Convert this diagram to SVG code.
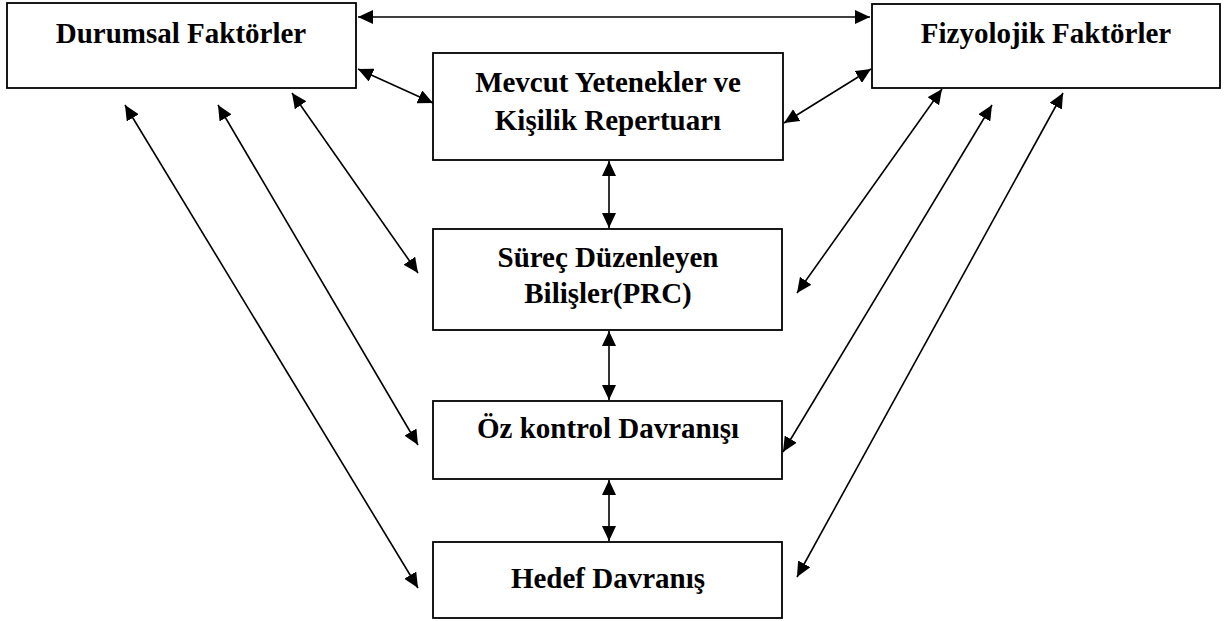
<svg xmlns="http://www.w3.org/2000/svg" width="1224" height="621" viewBox="0 0 1224 621">
<style>
.box{fill:#fff;stroke:#000;stroke-width:1.8}
.lbl{font-family:"Liberation Serif","Times New Roman",serif;font-weight:bold;font-size:29px;fill:#000;text-anchor:middle}
.con{stroke:#000;stroke-width:1.6;fill:none;marker-start:url(#ah);marker-end:url(#ah)}
</style>
<defs>
<marker id="ah" markerUnits="userSpaceOnUse" markerWidth="16" markerHeight="14" refX="15" refY="7" orient="auto-start-reverse">
<path d="M0,0 L15,7 L0,14 z" fill="#000"/>
</marker>
</defs>
<rect width="1224" height="621" fill="#fff"/>
<g id="durumsal"><rect class="box" x="7" y="3" width="349" height="85"/><text class="lbl" x="181" y="43">Durumsal Faktörler</text></g>
<g id="fizyolojik"><rect class="box" x="872" y="4" width="348" height="84"/><text class="lbl" x="1046" y="43">Fizyolojik Faktörler</text></g>
<g id="mevcut"><rect class="box" x="433" y="53" width="350" height="107"/><text class="lbl" x="608" y="92">Mevcut Yetenekler ve</text><text class="lbl" x="608" y="130">Kişilik Repertuarı</text></g>
<g id="surec"><rect class="box" x="433" y="229" width="349" height="101"/><text class="lbl" x="608" y="267">Süreç Düzenleyen</text><text class="lbl" x="608" y="303">Bilişler(PRC)</text></g>
<g id="ozkontrol"><rect class="box" x="433" y="401" width="349" height="78"/><text class="lbl" x="608" y="438">Öz kontrol Davranışı</text></g>
<g id="hedef"><rect class="box" x="433" y="542" width="349" height="76"/><text class="lbl" x="608" y="588">Hedef Davranış</text></g>
<g id="connectors">
<line class="con" x1="358" y1="17" x2="870" y2="17"/>
<line class="con" x1="358" y1="69" x2="433" y2="103"/>
<line class="con" x1="871" y1="69" x2="784" y2="123"/>
<line class="con" x1="609" y1="161" x2="609" y2="228"/>
<line class="con" x1="609" y1="331" x2="609" y2="400"/>
<line class="con" x1="609" y1="480" x2="609" y2="541"/>
<line class="con" x1="292" y1="93" x2="418" y2="273"/>
<line class="con" x1="218" y1="105" x2="418" y2="445"/>
<line class="con" x1="125" y1="105" x2="418" y2="588"/>
<line class="con" x1="942" y1="89" x2="797" y2="293"/>
<line class="con" x1="992" y1="105" x2="783" y2="452"/>
<line class="con" x1="1063" y1="93" x2="797" y2="577"/>
</g>
</svg>
